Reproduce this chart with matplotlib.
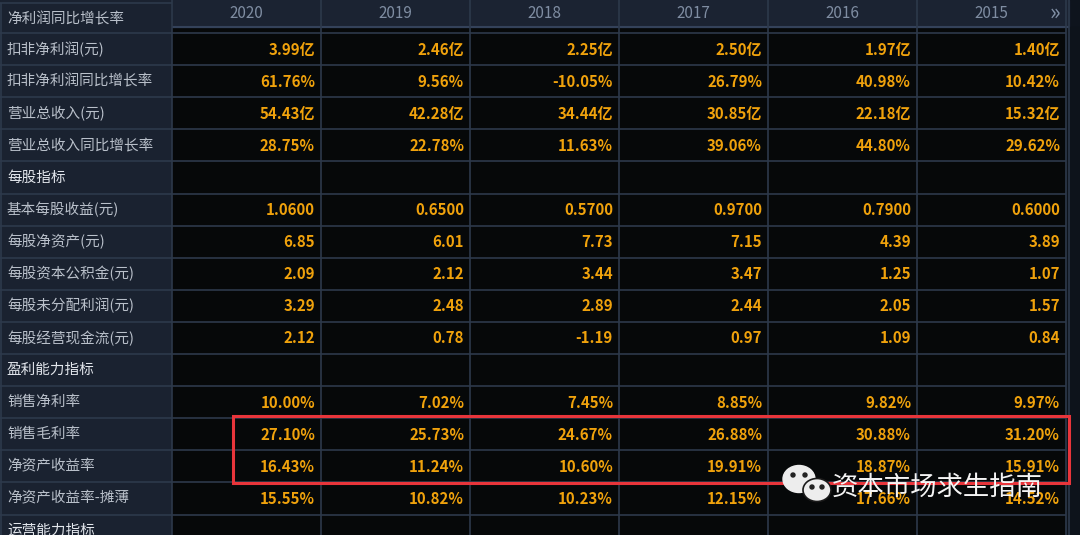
import matplotlib
matplotlib.use("Agg")
import matplotlib.pyplot as plt
from matplotlib.patches import Rectangle, Ellipse

plt.rcParams['font.family'] = ['Noto Sans CJK SC', 'DejaVu Sans']

years = ["2020", "2019", "2018", "2017", "2016", "2015"]
top_label = "净利润同比增长率"
row_labels = [
    "扣非净利润(元)", "扣非净利润同比增长率", "营业总收入(元)", "营业总收入同比增长率",
    "每股指标",
    "基本每股收益(元)", "每股净资产(元)", "每股资本公积金(元)", "每股未分配利润(元)", "每股经营现金流(元)",
    "盈利能力指标",
    "销售净利率", "销售毛利率", "净资产收益率", "净资产收益率-摊薄",
    "运营能力指标",
]
section_rows = ["每股指标", "盈利能力指标", "运营能力指标"]
values = {
    "扣非净利润(元)": ["3.99亿", "2.46亿", "2.25亿", "2.50亿", "1.97亿", "1.40亿"],
    "扣非净利润同比增长率": ["61.76%", "9.56%", "-10.05%", "26.79%", "40.98%", "10.42%"],
    "营业总收入(元)": ["54.43亿", "42.28亿", "34.44亿", "30.85亿", "22.18亿", "15.32亿"],
    "营业总收入同比增长率": ["28.75%", "22.78%", "11.63%", "39.06%", "44.80%", "29.62%"],
    "基本每股收益(元)": ["1.0600", "0.6500", "0.5700", "0.9700", "0.7900", "0.6000"],
    "每股净资产(元)": ["6.85", "6.01", "7.73", "7.15", "4.39", "3.89"],
    "每股资本公积金(元)": ["2.09", "2.12", "3.44", "3.47", "1.25", "1.07"],
    "每股未分配利润(元)": ["3.29", "2.48", "2.89", "2.44", "2.05", "1.57"],
    "每股经营现金流(元)": ["2.12", "0.78", "-1.19", "0.97", "1.09", "0.84"],
    "销售净利率": ["10.00%", "7.02%", "7.45%", "8.85%", "9.82%", "9.97%"],
    "销售毛利率": ["27.10%", "25.73%", "24.67%", "26.88%", "30.88%", "31.20%"],
    "净资产收益率": ["16.43%", "11.24%", "10.60%", "19.91%", "18.87%", "15.91%"],
    "净资产收益率-摊薄": ["15.55%", "10.82%", "10.23%", "12.15%", "17.66%", "14.52%"],
}
highlight_rows = ["销售毛利率", "净资产收益率"]
watermark = "资本市场求生指南"

# layout in pixels
W, H = 1080, 535
label_w = 172
col_w = 149
head_h = 27
body_top = 33
row_h = 32.1

bg_label = "#1a2230"
bg_head = "#1b2332"
bg_cell = "#060809"
grid = "#2d394b"
txt_label = "#b9c0ca"
txt_section = "#e2e6ec"
txt_value = "#f0a20c"
txt_year = "#7f8da2"

fig = plt.figure(figsize=(W / 100, H / 100), dpi=100)
ax = fig.add_axes([0, 0, 1, 1])
ax.set_xlim(0, W)
ax.set_ylim(H, 0)
ax.axis("off")
fig.patch.set_facecolor("#0e141d")

table_right = label_w + col_w * len(years)

# backgrounds
ax.add_patch(Rectangle((0, 0), label_w, H, color=bg_label, zorder=0))
ax.add_patch(Rectangle((label_w, 0), table_right - label_w, H, color=bg_cell, zorder=0))
ax.add_patch(Rectangle((label_w, 0), table_right + 3 - label_w, head_h, color=bg_head, zorder=0))
ax.add_patch(Rectangle((table_right, head_h), W - table_right, H, color="#0d131b", zorder=0))

# header
for j, y in enumerate(years):
    x0 = label_w + j * col_w
    ax.text(x0 + col_w / 2, 13, y, color=txt_year, fontsize=11,
            ha="center", va="center", zorder=3)
ax.text(table_right - 11, 13, "»", color="#8392a8", fontsize=16,
        ha="center", va="center", zorder=3)
ax.hlines(head_h, label_w, table_right + 3, color="#34425a", lw=1.5, zorder=2)
ax.vlines(table_right + 3, 0, H, color=grid, lw=1.2, zorder=2)

# label column top cell
ax.hlines(3, 0, label_w, color=grid, lw=1.2, zorder=2)
ax.text(7, 19, top_label, color=txt_label, fontsize=10.5, ha="left", va="center", zorder=3)

# rows
for i, lab in enumerate(row_labels):
    y0 = body_top + i * row_h
    yc = y0 + row_h / 2
    ax.hlines(y0, 0, table_right, color=grid, lw=1.2, zorder=2)
    if lab in section_rows:
        ax.text(7, yc, lab, color=txt_section, fontsize=10.5, ha="left", va="center", zorder=3)
    else:
        ax.text(7, yc, lab, color=txt_label, fontsize=10.5, ha="left", va="center", zorder=3)
    for j, v in enumerate(values.get(lab, [])):
        x1 = label_w + (j + 1) * col_w
        ax.text(x1 - 6, yc + 0.5, v, color=txt_value, fontsize=10.8, fontweight="bold",
                ha="right", va="center", zorder=3)

# vertical grid lines
ax.vlines(1, 3, H, color=grid, lw=1.2, zorder=2)
for j in range(len(years) + 1):
    ax.vlines(label_w + j * col_w, 0, H, color=grid, lw=1.2, zorder=2)

# red highlight box
r0 = row_labels.index(highlight_rows[0])
r1 = row_labels.index(highlight_rows[-1])
ax.add_patch(Rectangle((233, body_top + r0 * row_h - 2), table_right + 3 - 233,
                       (r1 - r0 + 1) * row_h + 3, fill=False,
                       edgecolor="#e8353b", lw=2.2, zorder=4))

# watermark: wechat icon + text
ax.add_patch(Ellipse((799, 479), 32, 27, color="#ededed", zorder=5))
ax.add_patch(Ellipse((817, 490), 28, 23, color="#ededed", ec="#1a1a1a", lw=1.2, zorder=6))
for dx in (-6, 6):
    ax.add_patch(Ellipse((799 + dx, 475), 4, 4, color="#222222", zorder=5.5))
for dx in (-5, 5):
    ax.add_patch(Ellipse((817 + dx, 487), 4, 4, color="#222222", zorder=7))
ax.text(832, 487, watermark, color="#f4f4f4", fontsize=19, ha="left", va="center", zorder=7)

fig.savefig("out.png", dpi=100, facecolor=fig.get_facecolor())
